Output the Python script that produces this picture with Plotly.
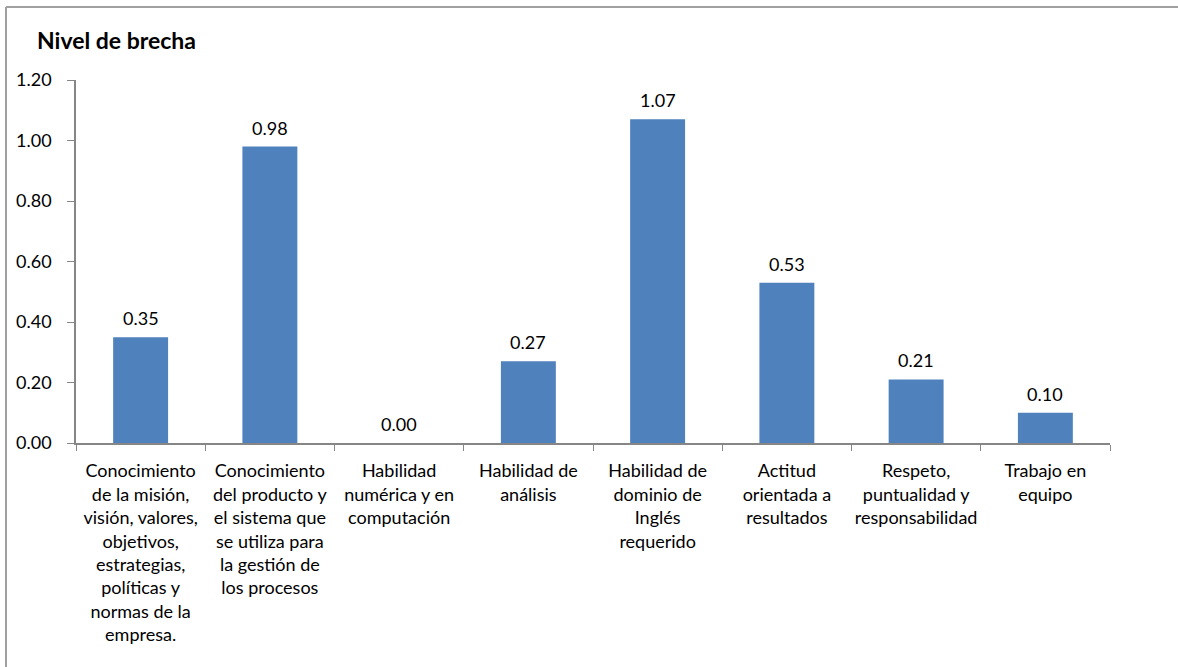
import plotly.graph_objects as go

categories = [
    "Conocimiento<br>de la misión,<br>visión, valores,<br>objetivos,<br>estrategias,<br>políticas y<br>normas de la<br>empresa.",
    "Conocimiento<br>del producto y<br>el sistema que<br>se utiliza para<br>la gestión de<br>los procesos",
    "Habilidad<br>numérica y en<br>computación",
    "Habilidad de<br>análisis",
    "Habilidad de<br>dominio de<br>Inglés<br>requerido",
    "Actitud<br>orientada a<br>resultados",
    "Respeto,<br>puntualidad y<br>responsabilidad",
    "Trabajo en<br>equipo",
]
brecha = [0.35, 0.98, 0.00, 0.27, 1.07, 0.53, 0.21, 0.10]
y_ticks = [0.0, 0.2, 0.4, 0.6, 0.8, 1.0, 1.2]

FONT = "Lato"
AXIS_COLOR = "#868686"
FRAME_COLOR = "#A0A0A0"

fig = go.Figure(
    go.Bar(
        x=categories,
        y=brecha,
        marker=dict(color="#4F81BD", line=dict(width=0)),
        hoverinfo="x+y",
    )
)

# value labels above each bar
for cat, val in zip(categories, brecha):
    fig.add_annotation(
        x=cat, y=val, xref="x", yref="y",
        text=f"{val:.2f}",
        showarrow=False,
        yanchor="bottom",
        yshift=6,
        font=dict(family=FONT, size=18, color="#000000"),
    )

fig.update_layout(
    width=1178,
    height=667,
    margin=dict(l=76, r=68, t=80, b=224),
    paper_bgcolor="white",
    plot_bgcolor="white",
    bargap=0.575,
    showlegend=False,
    font=dict(family=FONT, size=18, color="#000000"),
)

fig.update_xaxes(
    type="category",
    automargin=False,
    tickangle=0,
    showline=True,
    linecolor=AXIS_COLOR,
    linewidth=1.5,
    ticks="outside",
    tickson="boundaries",
    ticklen=6,
    tickcolor=AXIS_COLOR,
    tickfont=dict(family=FONT, size=18, color="#000000"),
    ticklabelstandoff=11,
    showgrid=False,
)

fig.update_yaxes(
    automargin=False,
    range=[0, 1.2],
    tickvals=y_ticks,
    tickformat=".2f",
    showline=True,
    linecolor=AXIS_COLOR,
    linewidth=1.5,
    ticks="outside",
    ticklen=7,
    tickcolor=AXIS_COLOR,
    tickfont=dict(family=FONT, size=18, color="#000000"),
    ticklabelstandoff=12,
    showgrid=False,
    zeroline=False,
)

# chart title
fig.add_annotation(
    text="<b>Nivel de brecha</b>",
    xref="paper", yref="paper",
    x=-0.0397, y=1.110,
    xanchor="left", yanchor="middle",
    showarrow=False,
    font=dict(family=FONT, size=23, color="#000000"),
)

# chart area frame: top and left edges
fig.add_shape(
    type="line", xref="paper", yref="paper",
    x0=-0.0677, y0=1.2011, x1=1.2, y1=1.2011,
    line=dict(color=FRAME_COLOR, width=2),
)
fig.add_shape(
    type="line", xref="paper", yref="paper",
    x0=-0.0677, y0=-1.0, x1=-0.0677, y1=1.2011,
    line=dict(color=FRAME_COLOR, width=2),
)

fig.write_html("out.html")
